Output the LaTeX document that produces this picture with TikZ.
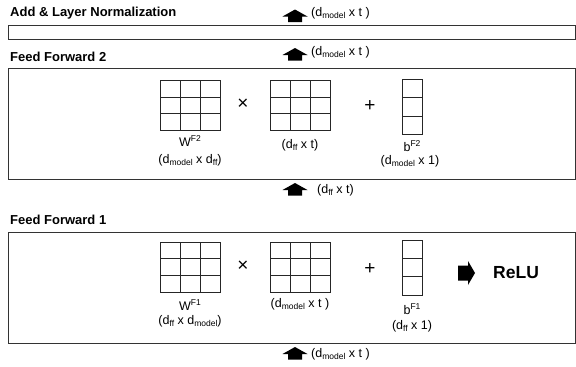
\documentclass[tikz,border=0pt]{standalone}
\usepackage{fontspec}
\setmainfont{Liberation Sans}
\usetikzlibrary{calc}
\newcommand{\sbs}[1]{\raisebox{-0.28ex}{\fontsize{8.5}{9}\selectfont #1}}
\newcommand{\sps}[1]{\raisebox{0.75ex}{\fontsize{8.5}{9}\selectfont #1}}
\tikzset{
  lbl/.style={font=\fontsize{12.5}{14}\selectfont, inner sep=0pt},
  head/.style={font=\fontsize{13}{15}\selectfont\bfseries, inner sep=0pt, anchor=west},
  panel/.style={draw=black!80, line width=1pt},
  cellgrid/.style 2 args={draw=black!85, line width=0.9pt, inner sep=0pt, minimum width=#1, minimum height=#2},
  threecols/.style={path picture={
    \foreach \i in {1,2} {
      \draw[black!85, line width=0.9pt] ($(path picture bounding box.south west)!\i/3!(path picture bounding box.south east)$) -- ($(path picture bounding box.north west)!\i/3!(path picture bounding box.north east)$);
      \draw[black!85, line width=0.9pt] ($(path picture bounding box.south west)!\i/3!(path picture bounding box.north west)$) -- ($(path picture bounding box.south east)!\i/3!(path picture bounding box.north east)$);
    }}},
  threerows/.style={path picture={
    \foreach \i in {1,2} {
      \draw[black!85, line width=0.9pt] ($(path picture bounding box.south west)!\i/3!(path picture bounding box.north west)$) -- ($(path picture bounding box.south east)!\i/3!(path picture bounding box.north east)$);
    }}},
  mat/.style={cellgrid={60pt}{50pt}, threecols},
  vec/.style={cellgrid={20pt}{55pt}, threerows},
  opsym/.style={font=\fontsize{19}{19}\selectfont, inner sep=0pt},
  blk/.style={fill=black, draw=none},
}
\newcommand{\uparr}[1]{\fill[blk] ($#1$) -- ++(12.5,7) -- ++(-5.5,0) -- ++(0,5.5) -- ++(-14,0) -- ++(0,-5.5) -- ++(-5.5,0) -- cycle;}
\begin{document}
\begin{tikzpicture}[x=1pt,y=-1pt]
\useasboundingbox (0,0) rectangle (576,367);
\fill[white] (0,0) rectangle (576,367);

% Add & Layer Normalization
\node[head] (hAN) at (10,13) {Add \& Layer Normalization};
\draw[panel] (8.5,25.5) rectangle (575.5,39.5);
\coordinate (a1) at (295,9.5);
\uparr{(a1)}
\node[lbl, anchor=west] (t1) at (311,13.5) {(d\sbs{model} x t )};

% Feed Forward 2
\node[head] (hF2) at (10,57) {Feed Forward 2};
\coordinate (a2) at (295,48);
\uparr{(a2)}
\node[lbl, anchor=west] (t2) at (311,52) {(d\sbs{model} x t )};
\draw[panel] (8.5,68) rectangle (575.5,179.5);

\node[mat] (w2) at (190,105.5) {};
\node[opsym] (x2) at (243,104.5) {×};
\node[mat] (m2) at (300,105.5) {};
\node[opsym] (p2) at (370,106) {+};
\node[vec] (b2) at (412,107) {};
\node[lbl] (w2l) at (190,141) {W\sps{F2}};
\node[lbl] (w2d) at (190,160) {(d\sbs{model} x d\sbs{ff})};
\node[lbl] (m2d) at (300,145) {(d\sbs{ff} x t)};
\node[lbl] (b2l) at (412,146) {b\sps{F2}};
\node[lbl] (b2d) at (410,161) {(d\sbs{model} x 1)};

% arrow between
\coordinate (a3) at (295,183);
\uparr{(a3)}
\node[lbl, anchor=west] (t3) at (317,190) {(d\sbs{ff} x t)};

% Feed Forward 1
\node[head] (hF1) at (10,220) {Feed Forward 1};
\draw[panel] (8.5,232) rectangle (575.5,343);

\node[mat] (w1) at (190,267) {};
\node[opsym] (x1) at (243,266.5) {×};
\node[mat] (m1) at (300,267) {};
\node[opsym] (p1) at (370,269) {+};
\node[vec] (b1) at (412,267.5) {};
\node[lbl] (w1l) at (190,305) {W\sps{F1}};
\node[lbl] (w1d) at (190,321) {(d\sbs{ff} x d\sbs{model})};
\node[lbl] (m1d) at (300,304.5) {(d\sbs{model} x t )};
\node[lbl] (b1l) at (412,309) {b\sps{F1}};
\node[lbl] (b1d) at (412,326) {(d\sbs{ff} x 1)};

\coordinate (ra) at (458,273);
\fill[blk] ($(ra)+(0,-7.5)$) -- ++(10,0) -- ++(0,-4.5) -- ++(7,12) -- ++(-7,12) -- ++(0,-4.5) -- ++(-10,0) -- cycle;
\node[font=\fontsize{17.5}{19}\selectfont\bfseries, inner sep=0pt, anchor=west] (relu) at (493,272.5) {ReLU};

\coordinate (a4) at (295,347);
\uparr{(a4)}
\node[lbl, anchor=west] (t4) at (311,354) {(d\sbs{model} x t )};
\end{tikzpicture}
\end{document}
